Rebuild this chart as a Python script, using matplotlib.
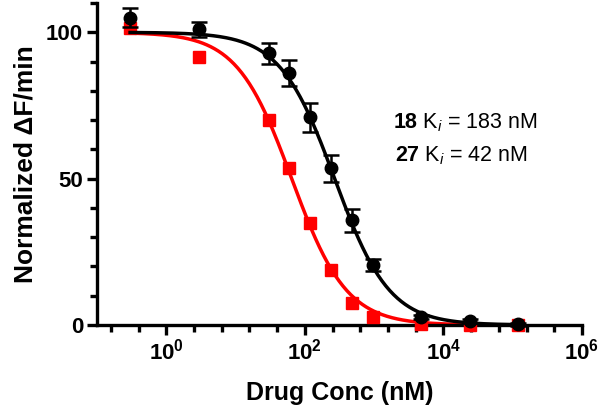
import matplotlib
matplotlib.use('Agg')
from matplotlib import pyplot as plt
from matplotlib.ticker import FixedLocator
import numpy as np

# drug concentrations (nM)
conc = [0.3, 3, 30, 60, 120, 240, 480, 960, 4800, 24000, 120000]

# compound 18 (black circles, with SEM)
y18 = [105, 101, 92.8, 86, 71, 53.6, 35.8, 20.5, 2.7, 1.4, 0.3]
err18 = [3.2, 2.5, 3.7, 4.4, 5.0, 4.6, 4.0, 2.0, 0.8, 0.6, 0.5]

# compound 27 (red squares)
y27 = [101.4, 91.5, 70, 53.6, 34.8, 18.8, 7.5, 2.7, 0.2, 0.0, 0.1]

# fit parameters: log IC50, hill slope
fit18 = (2.43, 1.1)
fit27 = (1.81, 1.1)

xticks = [1, 1e2, 1e4, 1e6]
xticklabels = [r'$\mathbf{10^{0}}$', r'$\mathbf{10^{2}}$', r'$\mathbf{10^{4}}$', r'$\mathbf{10^{6}}$']
yticks = [0, 50, 100]
ann = [r'$\mathbf{18}$ K$_i$ = 183 nM', r'$\mathbf{27}$ K$_i$ = 42 nM']

plt.rcParams['font.family'] = ['Liberation Sans', 'DejaVu Sans']
plt.rcParams['mathtext.fontset'] = 'custom'
plt.rcParams['mathtext.rm'] = 'Liberation Sans'
plt.rcParams['mathtext.it'] = 'Liberation Sans:italic'
plt.rcParams['mathtext.bf'] = 'Liberation Sans:bold'


def curve(x, logic50, h):
    return 100 / (1 + 10 ** ((np.log10(x) - logic50) * h))


fig = plt.figure(figsize=(6, 4.07), dpi=100)
ax = fig.add_axes([0.1617, 0.2015, 0.8083, 0.791])

xs = np.logspace(np.log10(conc[0]), np.log10(conc[-1]), 300)
ax.plot(xs, curve(xs, *fit27), color='#ff0000', lw=2.5, zorder=2)
ax.plot(conc, y27, 's', color='#ff0000', ms=8, zorder=3, clip_on=False)

ax.plot(xs, curve(xs, *fit18), color='black', lw=2.5, zorder=4)
ax.errorbar(conc, y18, yerr=err18, fmt='o', color='black', ms=9,
            elinewidth=1.8, capsize=6, capthick=1.8, zorder=5, clip_on=False)

ax.set_xscale('log')
ax.set_xlim(1e-1, 1e6)
ax.set_ylim(0, 110)

ax.set_xticks(xticks)
ax.set_xticklabels(xticklabels)
ax.xaxis.set_minor_locator(FixedLocator([10 ** (-0.8 + 0.4 * k) for k in range(18) if (k % 5) != 2]))
ax.xaxis.set_minor_formatter(plt.NullFormatter())
ax.set_yticks(yticks)
ax.yaxis.set_minor_locator(FixedLocator(range(0, 111, 10)))

for s in ['top', 'right']:
    ax.spines[s].set_visible(False)
for s in ['left', 'bottom']:
    ax.spines[s].set_linewidth(2.4)

ax.tick_params(which='major', length=7, width=2.4, labelsize=16, pad=3)
ax.tick_params(which='minor', length=5, width=2.4)
for lab in ax.get_yticklabels():
    lab.set_fontweight('bold')

ax.set_xlabel('Drug Conc (nM)', fontsize=18, fontweight='bold', labelpad=12)
ax.set_ylabel('Normalized \u0394F/min', fontsize=19, fontweight='bold', labelpad=6)

ax.text(1.9e3, 69, ann[0], fontsize=15.5, ha='left', va='center')
ax.text(2.0e3, 58, ann[1], fontsize=15.5, ha='left', va='center')

fig.savefig('out.png', dpi=100)
